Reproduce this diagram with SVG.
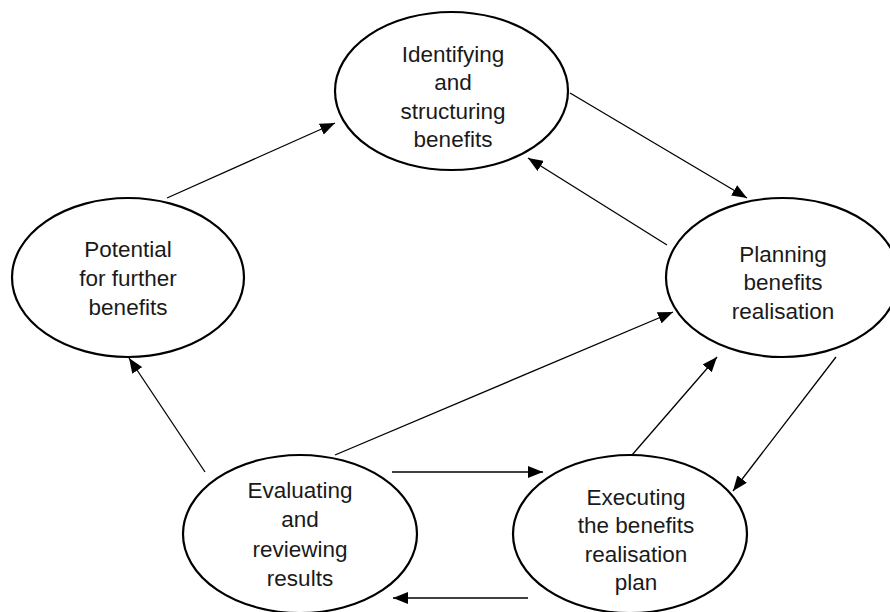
<svg xmlns="http://www.w3.org/2000/svg" width="890" height="612" viewBox="0 0 890 612">
<style>
.node ellipse{fill:#fff;stroke:#000;stroke-width:2.2}
.node text{font-family:"Liberation Sans",Arial,sans-serif;font-size:22.5px;fill:#1a1a1a;text-anchor:middle}
.conn line{stroke:#000;stroke-width:1.3;marker-end:url(#ah)}
</style>
<defs>
<marker id="ah" markerUnits="userSpaceOnUse" markerWidth="16" markerHeight="12" refX="15" refY="6" orient="auto">
<path d="M0,0 L15,6 L0,12 z" fill="#000"/>
</marker>
</defs>
<rect width="890" height="612" fill="#fff"/>
<g id="identifying" class="node">
<ellipse cx="451.5" cy="91" rx="116.5" ry="79"/>
<text x="453" y="62">Identifying</text>
<text x="453" y="90">and</text>
<text x="453" y="118.5">structuring</text>
<text x="453" y="147">benefits</text>
</g>
<g id="planning" class="node">
<ellipse cx="782.5" cy="277.5" rx="116.5" ry="79.5"/>
<text x="783" y="262">Planning</text>
<text x="783" y="290">benefits</text>
<text x="783" y="319">realisation</text>
</g>
<g id="potential" class="node">
<ellipse cx="128" cy="277.5" rx="116" ry="79.5"/>
<text x="128" y="257">Potential</text>
<text x="128" y="286">for further</text>
<text x="128" y="315">benefits</text>
</g>
<g id="evaluating" class="node">
<ellipse cx="300" cy="534" rx="117" ry="79"/>
<text x="300" y="498">Evaluating</text>
<text x="300" y="527">and</text>
<text x="300" y="557">reviewing</text>
<text x="300" y="586">results</text>
</g>
<g id="executing" class="node">
<ellipse cx="630" cy="534" rx="117" ry="79"/>
<text x="636" y="505">Executing</text>
<text x="636" y="533">the benefits</text>
<text x="636" y="562">realisation</text>
<text x="636" y="590">plan</text>
</g>
<g id="connectors" class="conn">
<line x1="167" y1="198" x2="335" y2="123"/>
<line x1="570" y1="93" x2="747" y2="198"/>
<line x1="667" y1="245" x2="528" y2="158"/>
<line x1="335" y1="455" x2="673" y2="312"/>
<line x1="632" y1="455" x2="717" y2="357"/>
<line x1="836" y1="357" x2="733" y2="491"/>
<line x1="205" y1="472" x2="129" y2="358"/>
<line x1="392" y1="472" x2="543" y2="472"/>
<line x1="528" y1="598" x2="393" y2="598"/>
</g>
</svg>
